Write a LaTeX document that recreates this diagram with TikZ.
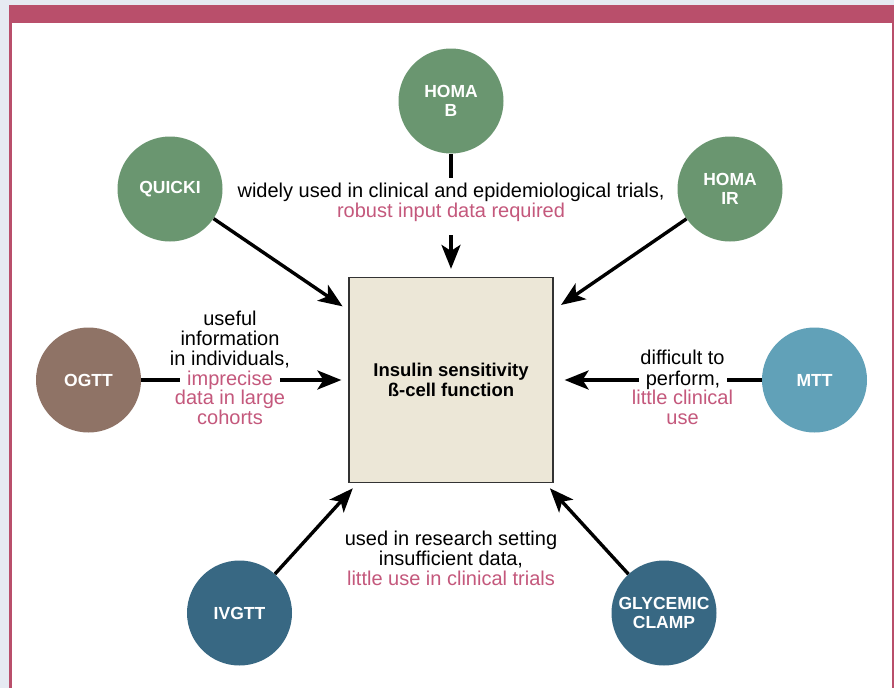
\documentclass[tikz,border=0pt]{standalone}
\usepackage{fontspec}
\setmainfont{Liberation Sans}
\usetikzlibrary{arrows.meta}

\definecolor{pagegrey}{HTML}{E6EAF2}
\definecolor{framerose}{HTML}{B94F6B}
\definecolor{rose}{HTML}{C4587C}
\definecolor{sage}{HTML}{6A9670}
\definecolor{cocoa}{HTML}{8F7366}
\definecolor{skyblue}{HTML}{61A1B8}
\definecolor{slateblue}{HTML}{386883}
\definecolor{boxfill}{HTML}{ECE7D7}
\definecolor{boxline}{HTML}{333333}

\begin{document}
\begin{tikzpicture}[x=1pt,y=-1pt,
	method/.style={circle,minimum size=105pt,inner sep=0pt,text=white,align=center,font=\fontsize{17.5}{19.5}\selectfont\bfseries},
	note/.style={align=center,inner sep=0pt,font=\fontsize{20}{20}\selectfont},
	link/.style={line width=3.4pt},
	arr/.style={line width=3.4pt,-{Stealth[length=24pt,width=19pt,inset=6pt]}}]
		\useasboundingbox (0,0) rectangle (894,688);
		\fill[pagegrey] (0,0) rectangle (894,688);
		\fill[framerose] (9,5) rectangle (894,688);
		\fill[white] (12,23) rectangle (891.5,688);
		% centre box
		\node[draw=boxline,fill=boxfill,line width=1.2pt,minimum width=204pt,minimum height=205pt,align=center,font=\fontsize{18.5}{19.5}\selectfont\bfseries] (target) at (451,380) {Insulin sensitivity\\ß-cell function};
		% methods
		\node[method,fill=sage] (homab) at (451,101) {HOMA\\B};
		\node[method,fill=sage] (quicki) at (170,189) {QUICKI};
		\node[method,fill=sage] (homair) at (730,189) {HOMA\\IR};
		\node[method,fill=cocoa] (ogtt) at (88.5,380) {OGTT};
		\node[method,fill=skyblue] (mtt) at (814.5,380) {MTT};
		\node[method,fill=slateblue] (ivgtt) at (239.5,613) {IVGTT};
		\node[method,fill=slateblue] (clamp) at (664,613) {GLYCEMIC\\CLAMP};
		% notes
		\node[note] (topnote) at (451,202.5) {widely used in clinical and epidemiological trials,\\\textcolor{rose}{robust input data required}};
		\node[note,text=rose,inner xsep=7pt] (ogttmid) at (230,380) {imprecise};
		\node[note] (ogtttop) at (230,340) {useful\\information\\in individuals,};
		\node[note,text=rose] (ogttbot) at (230,407.5) {data in large\\cohorts};
		\node[note,inner xsep=7pt] (mttmid) at (683,380) {perform,};
		\node[note] (mtttop) at (682.5,357.5) {difficult to};
		\node[note,text=rose] (mttbot) at (682.5,407) {little clinical\\use};
		\node[note] (bottomnote) at (451,558) {used in research setting\\insufficient data,\\\textcolor{rose}{little use in clinical trials}};
		% connectors
		\draw[link,shorten >=5pt] (homab) -- (topnote);
		\draw[arr,shorten <=13pt,shorten >=8pt] (topnote) -- (target);
		\draw[arr,shorten >=7pt] (quicki) -- (target);
		\draw[arr,shorten >=9pt] (homair) -- (target);
		\draw[link] (ogtt) -- (ogttmid);
		\draw[arr,shorten >=7pt] (ogttmid) -- (target);
		\draw[link] (mtt) -- (mttmid);
		\draw[arr,shorten >=11pt] (mttmid) -- (target);
		\draw[arr,shorten >=7pt] (ivgtt) -- (target);
		\draw[arr,shorten >=7pt] (clamp) -- (target);
	\end{tikzpicture}
\end{document}
